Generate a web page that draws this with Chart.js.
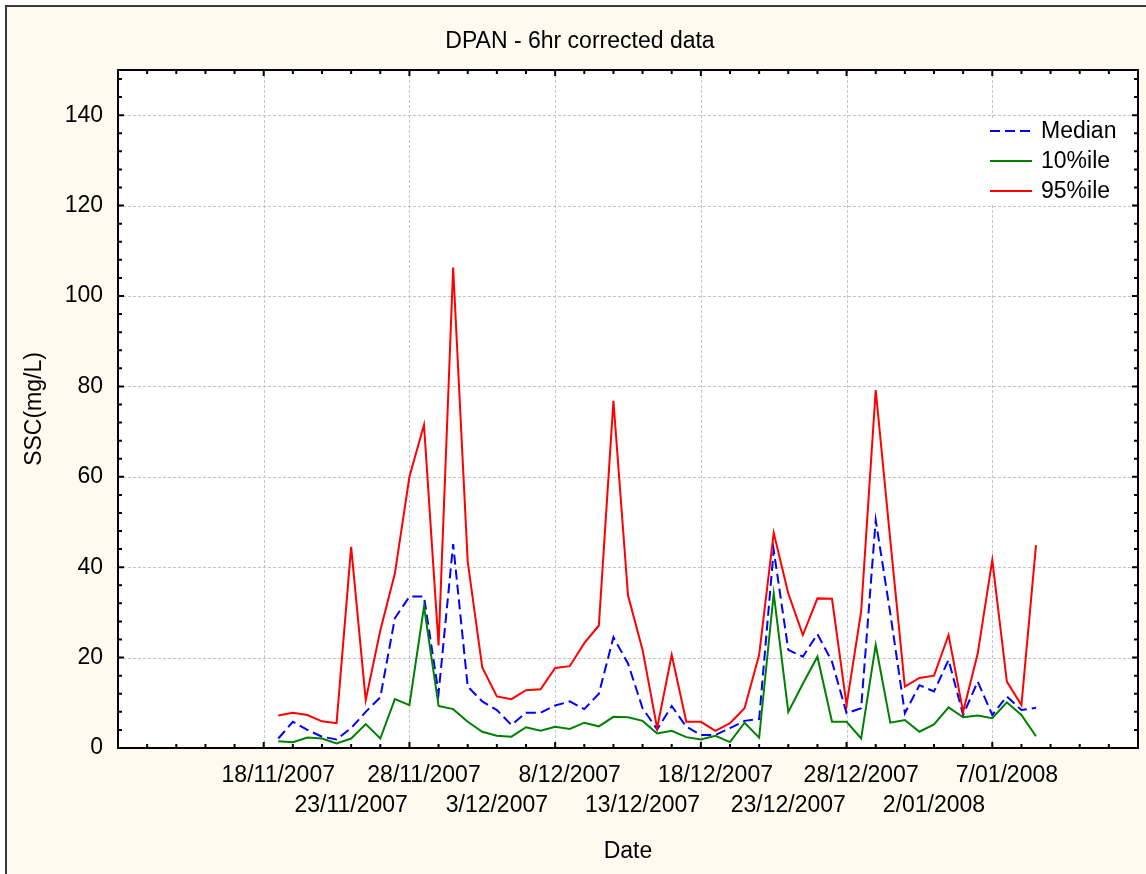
<!DOCTYPE html>
<html>
<head>
<meta charset="utf-8">
<script src="https://cdn.jsdelivr.net/npm/chart.js@4/dist/chart.umd.min.js"></script>
<style>
  html, body { margin: 0; padding: 0; background: #ffffff; }
  canvas { display: block; }
</style>
</head>
<body>
<canvas id="c" width="1146" height="874"></canvas>
<script>
// ---------------- data ----------------
const startDate = '18/11/2007';
const dates = [
  '18/11/2007','19/11/2007','20/11/2007','21/11/2007','22/11/2007','23/11/2007','24/11/2007',
  '25/11/2007','26/11/2007','27/11/2007','28/11/2007','29/11/2007','30/11/2007','1/12/2007',
  '2/12/2007','3/12/2007','4/12/2007','5/12/2007','6/12/2007','7/12/2007','8/12/2007',
  '9/12/2007','10/12/2007','11/12/2007','12/12/2007','13/12/2007','14/12/2007','15/12/2007',
  '16/12/2007','17/12/2007','18/12/2007','19/12/2007','20/12/2007','21/12/2007','22/12/2007',
  '23/12/2007','24/12/2007','25/12/2007','26/12/2007','27/12/2007','28/12/2007','29/12/2007',
  '30/12/2007','31/12/2007','1/01/2008','2/01/2008','3/01/2008','4/01/2008','5/01/2008',
  '6/01/2008','7/01/2008','8/01/2008','9/01/2008'
];
const median = [
  2.1, 5.8, 4.0, 2.5, 1.9, 4.4, 8.0, 11.2, 28.7, 33.5, 33.5, 12.1, 45.1, 13.6,
  10.3, 8.4, 5.1, 7.8, 7.8, 9.4, 10.3, 8.6, 12.0, 24.5, 18.7, 8.8, 4.1, 9.3,
  4.7, 2.9, 2.9, 4.4, 6.0, 6.4, 43.8, 21.7, 20.2, 25.2, 19.1, 7.7, 8.8, 50.4,
  29.8, 7.7, 13.9, 12.5, 19.5, 7.3, 14.7, 7.3, 11.4, 8.4, 8.9
];
const p10 = [
  1.5, 1.3, 2.3, 2.1, 1.0, 2.1, 5.3, 2.1, 10.8, 9.5, 31.3, 9.3, 8.6, 5.8,
  3.6, 2.7, 2.5, 4.6, 3.8, 4.7, 4.2, 5.6, 4.8, 6.9, 6.8, 6.0, 3.2, 3.8,
  2.4, 1.9, 2.7, 1.3, 5.6, 2.3, 34.2, 8.0, 14.2, 20.2, 5.8, 5.8, 2.1, 22.8,
  5.6, 6.2, 3.6, 5.2, 9.0, 6.8, 7.2, 6.6, 10.1, 7.3, 2.6
];
const p95 = [
  7.2, 7.8, 7.3, 5.9, 5.5, 44.5, 10.6, 26.0, 38.6, 60.0, 71.5, 22.7, 106.3, 41.2,
  17.8, 11.4, 10.8, 12.8, 13.0, 17.7, 18.1, 23.2, 27.1, 76.8, 33.8, 21.7, 4.4, 20.6,
  5.8, 5.8, 3.8, 5.5, 8.8, 20.6, 47.6, 34.2, 25.0, 33.1, 33.0, 9.5, 30.2, 79.2,
  46.0, 13.6, 15.5, 16.0, 25.0, 8.0, 20.9, 41.6, 14.7, 9.5, 44.9
];
const xTickLabels = [
  '18/11/2007','23/11/2007','28/11/2007','3/12/2007','8/12/2007','13/12/2007',
  '18/12/2007','23/12/2007','28/12/2007','2/01/2008','7/01/2008'
];
const yTickValues = [0, 20, 40, 60, 80, 100, 120, 140];
const seriesNames = ['Median', '10%ile', '95%ile'];
const titleText = 'DPAN - 6hr corrected data';
const xTitle = 'Date';
const yTitle = 'SSC(mg/L)';

// ---------------- helpers ----------------
function parseDate(s) {
  const [d, m, y] = s.split('/').map(Number);
  return Date.UTC(y, m - 1, d);
}
const DAY = 86400000;
const t0 = parseDate(startDate);
const dayOf = s => Math.round((parseDate(s) - t0) / DAY);
const xTickDays = xTickLabels.map(dayOf);
const X_MIN = -11, X_MAX = 59;   // axis range in days from start date
const Y_MIN = 0, Y_MAX = 150;
const xGridDays = [-1, 9, 19, 29, 39, 49];
const FONT = 'Arial, "Liberation Sans", sans-serif';
const FS = 23;

const toPts = arr => dates.map((d, i) => ({ x: dayOf(d), y: arr[i] }));

const colors = ['#0000ff', '#008000', '#ff0000'];
const dashes = [[10, 5], [], []];

const decor = {
  id: 'decor',
  beforeDraw(chart) {
    const { ctx, chartArea: a, width, height, scales } = chart;
    ctx.save();
    ctx.fillStyle = '#ffffff';
    ctx.fillRect(0, 0, width, height);
    ctx.fillStyle = '#fffaf0';
    ctx.fillRect(7, 7, width - 7, height - 7);
    ctx.strokeStyle = '#3a3a3a';
    ctx.lineWidth = 2;
    ctx.beginPath();
    ctx.moveTo(6, height + 2); ctx.lineTo(6, 6); ctx.lineTo(width + 2, 6);
    ctx.stroke();
    // plot area
    ctx.fillStyle = '#ffffff';
    ctx.fillRect(a.left, a.top, a.right - a.left, a.bottom - a.top);
    // grid
    ctx.strokeStyle = '#c4c4c4';
    ctx.lineWidth = 1;
    ctx.setLineDash([3, 2]);
    yTickValues.forEach(v => {
      if (v <= Y_MIN) return;
      const y = Math.round(scales.y.getPixelForValue(v)) + 0.5;
      ctx.beginPath(); ctx.moveTo(a.left, y); ctx.lineTo(a.right, y); ctx.stroke();
    });
    xGridDays.forEach(v => {
      const x = Math.round(scales.x.getPixelForValue(v)) + 0.5;
      ctx.beginPath(); ctx.moveTo(x, a.top); ctx.lineTo(x, a.bottom); ctx.stroke();
    });
    ctx.setLineDash([]);
    // titles
    ctx.fillStyle = '#000';
    ctx.font = FS + 'px ' + FONT;
    ctx.textAlign = 'center';
    ctx.textBaseline = 'middle';
    ctx.fillText(titleText, 580, 42);
    ctx.fillText(xTitle, (a.left + a.right) / 2, 852);
    ctx.save();
    ctx.translate(35, (a.top + a.bottom) / 2);
    ctx.rotate(-Math.PI / 2);
    ctx.fillText(yTitle, 0, 0);
    ctx.restore();
    // legend
    ctx.fillStyle = '#ffffff';
    ctx.fillRect(984, 118, 150, 85);
    ctx.textAlign = 'left';
    seriesNames.forEach((n, i) => {
      const y = 131 + i * 30;
      ctx.strokeStyle = colors[i];
      ctx.lineWidth = 2;
      ctx.setLineDash(dashes[i]);
      ctx.beginPath(); ctx.moveTo(990, y); ctx.lineTo(1032, y); ctx.stroke();
      ctx.setLineDash([]);
      ctx.fillStyle = '#000';
      ctx.fillText(n, 1041, y + 1);
    });
    ctx.restore();
  },
  afterDatasetsDraw(chart) {
    const { ctx, chartArea: a, scales } = chart;
    ctx.save();
    ctx.strokeStyle = '#000';
    ctx.lineWidth = 2;
    // ticks inward on all sides
    ctx.beginPath();
    for (let v = X_MIN + 2; v < X_MAX; v += 2) {
      const x = scales.x.getPixelForValue(v);
      const len = xGridDays.includes(v) ? 6 : 4;
      ctx.moveTo(x, a.bottom); ctx.lineTo(x, a.bottom - len);
      ctx.moveTo(x, a.top); ctx.lineTo(x, a.top + len);
    }
    for (let v = Y_MIN + 4; v < Y_MAX; v += 4) {
      const y = scales.y.getPixelForValue(v);
      const len = yTickValues.includes(v) ? 6 : 4;
      ctx.moveTo(a.left, y); ctx.lineTo(a.left + len, y);
      ctx.moveTo(a.right, y); ctx.lineTo(a.right - len, y);
    }
    ctx.stroke();
    ctx.strokeRect(a.left, a.top, a.right - a.left, a.bottom - a.top);
    ctx.restore();
  }
};

new Chart(document.getElementById('c'), {
  type: 'line',
  data: {
    datasets: [median, p10, p95].map((arr, i) => ({
      label: seriesNames[i],
      data: toPts(arr),
      borderColor: colors[i],
      borderWidth: 2,
      borderDash: dashes[i],
      pointRadius: 0,
      fill: false,
      tension: 0,
      order: 2 - i
    }))
  },
  options: {
    responsive: false,
    animation: false,
    devicePixelRatio: 1,
    layout: { padding: { top: 70, right: 8, left: 0, bottom: 0 } },
    plugins: { legend: { display: false }, title: { display: false }, tooltip: { enabled: false } },
    scales: {
      x: {
        type: 'linear', min: X_MIN, max: X_MAX,
        afterBuildTicks: s => { s.ticks = xTickDays.map(v => ({ value: v })); },
        afterFit: s => { s.height = 126; },
        grid: { display: false, drawTicks: false },
        border: { display: false },
        ticks: {
          autoSkip: false, maxRotation: 0, minRotation: 0, padding: 12,
          color: '#000', font: { family: FONT, size: FS, lineHeight: 1.32 },
          callback: (v, i) => i % 2 === 0 ? [xTickLabels[i], ''] : ['', xTickLabels[i]]
        }
      },
      y: {
        min: Y_MIN, max: Y_MAX,
        afterBuildTicks: s => { s.ticks = yTickValues.map(v => ({ value: v })); },
        afterFit: s => { s.width = 118; },
        grid: { display: false, drawTicks: false },
        border: { display: false },
        ticks: { padding: 15, color: '#000', font: { family: FONT, size: FS } }
      }
    }
  },
  plugins: [decor]
});
</script>
</body>
</html>
